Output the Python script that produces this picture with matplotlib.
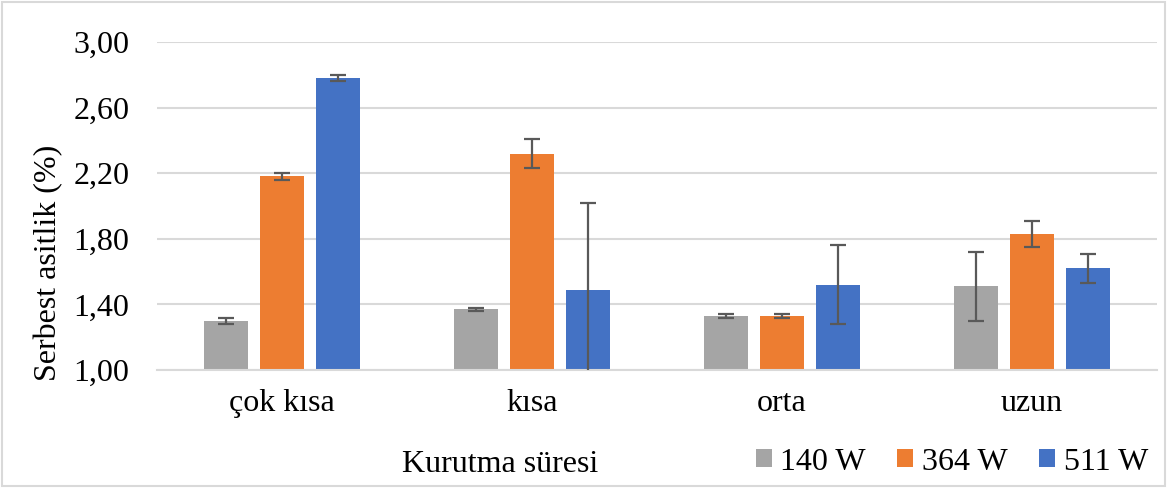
import matplotlib
matplotlib.use("Agg")
import matplotlib.pyplot as plt
import numpy as np
from matplotlib.patches import Rectangle

plt.rcParams['font.family'] = ['Liberation Serif', 'DejaVu Serif']

categories = ["çok kısa", "kısa", "orta", "uzun"]
series_names = ["140 W", "364 W", "511 W"]
vals_140 = [1.30, 1.37, 1.33, 1.51]
vals_364 = [2.18, 2.32, 1.33, 1.83]
vals_511 = [2.78, 1.49, 1.52, 1.62]
err_140 = [0.02, 0.01, 0.01, 0.21]
err_364 = [0.02, 0.09, 0.01, 0.08]
err_511 = [0.02, 0.53, 0.24, 0.09]
colors = ["#A5A5A5", "#ED7D31", "#4472C4"]
yticks = [1.00, 1.40, 1.80, 2.20, 2.60, 3.00]

W, H = 1171, 488
FS = 23
fig = plt.figure(figsize=(W / 100, H / 100), dpi=100)
ax = fig.add_axes([157 / W, (H - 370) / H, 1000 / W, 328 / H])

x = np.arange(len(categories))
bw = 0.176
step = 0.224
values = [vals_140, vals_364, vals_511]
errs = [err_140, err_364, err_511]
for i in range(3):
    ax.bar(x + (i - 1) * step, values[i], bw, bottom=0, color=colors[i],
           label=series_names[i], zorder=2,
           yerr=errs[i], error_kw=dict(ecolor="#595959", elinewidth=1.6,
                                       capsize=6, capthick=1.6, zorder=3))

ax.set_xlim(-0.5, 3.5)
ax.set_ylim(1.0, 3.0)
ax.set_yticks(yticks)
ax.set_yticklabels([f"{v:.2f}".replace(".", ",") for v in yticks], fontsize=FS)
ax.set_xticks(x)
ax.set_xticklabels(categories, fontsize=FS)
ax.tick_params(axis='both', length=0)
ax.tick_params(axis='x', pad=14)
ax.tick_params(axis='y', pad=20)
ax.grid(axis='y', color="#D9D9D9", linewidth=1.5, zorder=0)
ax.set_axisbelow(True)
for s in ["top", "right", "left"]:
    ax.spines[s].set_visible(False)
ax.spines["bottom"].set_color("#D9D9D9")
ax.spines["bottom"].set_linewidth(1.5)

fig.text(49 / W, 1 - 263 / H, "Serbest asitlik (%)", fontsize=FS,
         rotation=90, ha="center", va="center")

fig.text(500 / W, 1 - 465 / H, "Kurutma süresi", fontsize=FS,
         ha="center", va="center")

leg = fig.legend(loc="center right", bbox_to_anchor=(1148 / W, 1 - 462 / H),
                 ncol=3, frameon=False, fontsize=FS, handlelength=0.5,
                 handleheight=0.5, handletextpad=0.28, columnspacing=0.97,
                 borderpad=0, borderaxespad=0)

fig.patches.append(Rectangle((2 / W, 2 / H), 1 - 8 / W, 1 - 4 / H,
                             transform=fig.transFigure, fill=False,
                             edgecolor="#D9D9D9", linewidth=1.5))

fig.savefig("out.png", dpi=100, facecolor="white")
